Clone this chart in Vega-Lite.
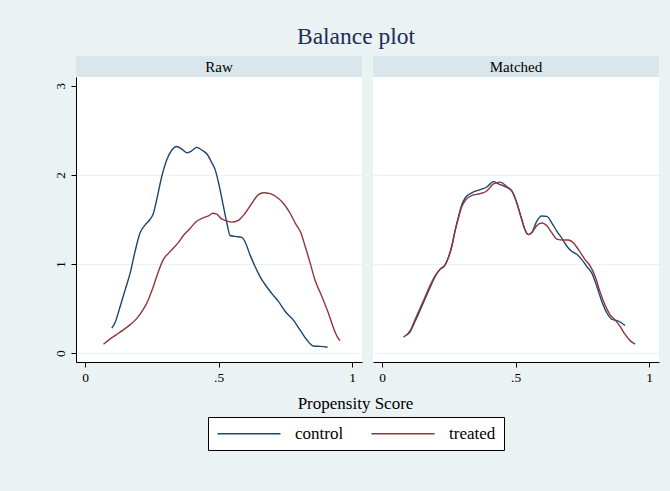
{
  "$schema": "https://vega.github.io/schema/vega-lite/v6.json",
  "background": "#EAF2F3",
  "padding": {"left": 53, "right": 11, "top": 24, "bottom": 41},
  "title": {"text": "Balance plot", "anchor": "middle", "frame": "bounds", "font": "Liberation Serif", "fontSize": 23.5, "fontWeight": "normal", "color": "#1E2C5A", "offset": 8},
  "config": {
    "view": {"stroke": null},
    "font": "Liberation Serif",
    "axis": {"labelFont": "Liberation Serif", "labelFontSize": 13.5, "labelColor": "black", "domainColor": "black", "tickColor": "black", "tickSize": 5, "titleFont": "Liberation Serif", "titleFontWeight": "normal", "titleColor": "black", "titleFontSize": 15},
    "legend": {"orient": "none", "legendX": 132, "legendY": 361, "direction": "horizontal", "title": null, "symbolType": "M-1,0H8", "symbolSize": 196, "symbolStrokeWidth": 1.6, "labelFont": "Liberation Serif", "labelFontSize": 17, "labelColor": "black", "labelOffset": 62, "columnPadding": 24, "padding": 8, "strokeColor": "black", "fillColor": "white"}
  },
  "datasets": {
    "curves": [
      {"panel":"Raw","group":"control","x":0.100,"y":0.28},{"panel":"Raw","group":"control","x":0.112,"y":0.34},{"panel":"Raw","group":"control","x":0.131,"y":0.52},{"panel":"Raw","group":"control","x":0.150,"y":0.71},{"panel":"Raw","group":"control","x":0.169,"y":0.90},{"panel":"Raw","group":"control","x":0.187,"y":1.14},{"panel":"Raw","group":"control","x":0.206,"y":1.35},{"panel":"Raw","group":"control","x":0.225,"y":1.44},{"panel":"Raw","group":"control","x":0.243,"y":1.50},{"panel":"Raw","group":"control","x":0.256,"y":1.57},{"panel":"Raw","group":"control","x":0.268,"y":1.72},{"panel":"Raw","group":"control","x":0.287,"y":1.98},{"panel":"Raw","group":"control","x":0.306,"y":2.17},{"panel":"Raw","group":"control","x":0.325,"y":2.28},{"panel":"Raw","group":"control","x":0.343,"y":2.32},{"panel":"Raw","group":"control","x":0.362,"y":2.29},{"panel":"Raw","group":"control","x":0.383,"y":2.25},{"panel":"Raw","group":"control","x":0.399,"y":2.27},{"panel":"Raw","group":"control","x":0.418,"y":2.31},{"panel":"Raw","group":"control","x":0.437,"y":2.28},{"panel":"Raw","group":"control","x":0.458,"y":2.23},{"panel":"Raw","group":"control","x":0.474,"y":2.14},{"panel":"Raw","group":"control","x":0.487,"y":2.06},{"panel":"Raw","group":"control","x":0.503,"y":1.87},{"panel":"Raw","group":"control","x":0.518,"y":1.65},{"panel":"Raw","group":"control","x":0.531,"y":1.46},{"panel":"Raw","group":"control","x":0.543,"y":1.32},{"panel":"Raw","group":"control","x":0.562,"y":1.31},{"panel":"Raw","group":"control","x":0.587,"y":1.30},{"panel":"Raw","group":"control","x":0.599,"y":1.25},{"panel":"Raw","group":"control","x":0.618,"y":1.10},{"panel":"Raw","group":"control","x":0.637,"y":0.97},{"panel":"Raw","group":"control","x":0.653,"y":0.87},{"panel":"Raw","group":"control","x":0.674,"y":0.77},{"panel":"Raw","group":"control","x":0.699,"y":0.67},{"panel":"Raw","group":"control","x":0.724,"y":0.58},{"panel":"Raw","group":"control","x":0.749,"y":0.47},{"panel":"Raw","group":"control","x":0.780,"y":0.37},{"panel":"Raw","group":"control","x":0.805,"y":0.26},{"panel":"Raw","group":"control","x":0.830,"y":0.15},{"panel":"Raw","group":"control","x":0.855,"y":0.08},{"panel":"Raw","group":"control","x":0.880,"y":0.075},{"panel":"Raw","group":"control","x":0.908,"y":0.065},
      {"panel":"Raw","group":"treated","x":0.069,"y":0.10},{"panel":"Raw","group":"treated","x":0.094,"y":0.16},{"panel":"Raw","group":"treated","x":0.119,"y":0.21},{"panel":"Raw","group":"treated","x":0.143,"y":0.26},{"panel":"Raw","group":"treated","x":0.169,"y":0.32},{"panel":"Raw","group":"treated","x":0.194,"y":0.39},{"panel":"Raw","group":"treated","x":0.218,"y":0.49},{"panel":"Raw","group":"treated","x":0.237,"y":0.60},{"panel":"Raw","group":"treated","x":0.256,"y":0.75},{"panel":"Raw","group":"treated","x":0.275,"y":0.92},{"panel":"Raw","group":"treated","x":0.293,"y":1.05},{"panel":"Raw","group":"treated","x":0.312,"y":1.12},{"panel":"Raw","group":"treated","x":0.331,"y":1.18},{"panel":"Raw","group":"treated","x":0.349,"y":1.24},{"panel":"Raw","group":"treated","x":0.368,"y":1.32},{"panel":"Raw","group":"treated","x":0.393,"y":1.40},{"panel":"Raw","group":"treated","x":0.418,"y":1.48},{"panel":"Raw","group":"treated","x":0.443,"y":1.52},{"panel":"Raw","group":"treated","x":0.462,"y":1.54},{"panel":"Raw","group":"treated","x":0.478,"y":1.57},{"panel":"Raw","group":"treated","x":0.493,"y":1.56},{"panel":"Raw","group":"treated","x":0.510,"y":1.51},{"panel":"Raw","group":"treated","x":0.524,"y":1.49},{"panel":"Raw","group":"treated","x":0.549,"y":1.47},{"panel":"Raw","group":"treated","x":0.574,"y":1.49},{"panel":"Raw","group":"treated","x":0.599,"y":1.57},{"panel":"Raw","group":"treated","x":0.624,"y":1.68},{"panel":"Raw","group":"treated","x":0.649,"y":1.78},{"panel":"Raw","group":"treated","x":0.668,"y":1.80},{"panel":"Raw","group":"treated","x":0.693,"y":1.79},{"panel":"Raw","group":"treated","x":0.718,"y":1.75},{"panel":"Raw","group":"treated","x":0.743,"y":1.68},{"panel":"Raw","group":"treated","x":0.768,"y":1.57},{"panel":"Raw","group":"treated","x":0.787,"y":1.46},{"panel":"Raw","group":"treated","x":0.808,"y":1.35},{"panel":"Raw","group":"treated","x":0.824,"y":1.20},{"panel":"Raw","group":"treated","x":0.843,"y":1.01},{"panel":"Raw","group":"treated","x":0.861,"y":0.82},{"panel":"Raw","group":"treated","x":0.886,"y":0.64},{"panel":"Raw","group":"treated","x":0.911,"y":0.45},{"panel":"Raw","group":"treated","x":0.933,"y":0.26},{"panel":"Raw","group":"treated","x":0.945,"y":0.18},{"panel":"Raw","group":"treated","x":0.955,"y":0.14},
      {"panel":"Matched","group":"control","x":0.092,"y":0.205},{"panel":"Matched","group":"control","x":0.105,"y":0.24},{"panel":"Matched","group":"control","x":0.124,"y":0.36},{"panel":"Matched","group":"control","x":0.142,"y":0.48},{"panel":"Matched","group":"control","x":0.161,"y":0.61},{"panel":"Matched","group":"control","x":0.180,"y":0.74},{"panel":"Matched","group":"control","x":0.199,"y":0.86},{"panel":"Matched","group":"control","x":0.217,"y":0.94},{"panel":"Matched","group":"control","x":0.236,"y":0.99},{"panel":"Matched","group":"control","x":0.248,"y":1.07},{"panel":"Matched","group":"control","x":0.261,"y":1.20},{"panel":"Matched","group":"control","x":0.273,"y":1.37},{"panel":"Matched","group":"control","x":0.286,"y":1.53},{"panel":"Matched","group":"control","x":0.298,"y":1.66},{"panel":"Matched","group":"control","x":0.313,"y":1.75},{"panel":"Matched","group":"control","x":0.336,"y":1.80},{"panel":"Matched","group":"control","x":0.367,"y":1.835},{"panel":"Matched","group":"control","x":0.392,"y":1.865},{"panel":"Matched","group":"control","x":0.417,"y":1.925},{"panel":"Matched","group":"control","x":0.436,"y":1.90},{"panel":"Matched","group":"control","x":0.461,"y":1.87},{"panel":"Matched","group":"control","x":0.486,"y":1.82},{"panel":"Matched","group":"control","x":0.504,"y":1.69},{"panel":"Matched","group":"control","x":0.523,"y":1.50},{"panel":"Matched","group":"control","x":0.536,"y":1.38},{"panel":"Matched","group":"control","x":0.548,"y":1.33},{"panel":"Matched","group":"control","x":0.561,"y":1.355},{"panel":"Matched","group":"control","x":0.579,"y":1.48},{"panel":"Matched","group":"control","x":0.598,"y":1.54},{"panel":"Matched","group":"control","x":0.617,"y":1.535},{"panel":"Matched","group":"control","x":0.636,"y":1.46},{"panel":"Matched","group":"control","x":0.654,"y":1.37},{"panel":"Matched","group":"control","x":0.673,"y":1.29},{"panel":"Matched","group":"control","x":0.692,"y":1.20},{"panel":"Matched","group":"control","x":0.711,"y":1.14},{"panel":"Matched","group":"control","x":0.729,"y":1.11},{"panel":"Matched","group":"control","x":0.748,"y":1.05},{"panel":"Matched","group":"control","x":0.767,"y":0.97},{"panel":"Matched","group":"control","x":0.785,"y":0.90},{"panel":"Matched","group":"control","x":0.804,"y":0.75},{"panel":"Matched","group":"control","x":0.823,"y":0.58},{"panel":"Matched","group":"control","x":0.842,"y":0.45},{"panel":"Matched","group":"control","x":0.860,"y":0.38},{"panel":"Matched","group":"control","x":0.885,"y":0.36},{"panel":"Matched","group":"control","x":0.910,"y":0.31},
      {"panel":"Matched","group":"treated","x":0.080,"y":0.18},{"panel":"Matched","group":"treated","x":0.105,"y":0.25},{"panel":"Matched","group":"treated","x":0.124,"y":0.38},{"panel":"Matched","group":"treated","x":0.142,"y":0.50},{"panel":"Matched","group":"treated","x":0.161,"y":0.63},{"panel":"Matched","group":"treated","x":0.180,"y":0.76},{"panel":"Matched","group":"treated","x":0.199,"y":0.87},{"panel":"Matched","group":"treated","x":0.217,"y":0.94},{"panel":"Matched","group":"treated","x":0.236,"y":0.99},{"panel":"Matched","group":"treated","x":0.248,"y":1.07},{"panel":"Matched","group":"treated","x":0.261,"y":1.20},{"panel":"Matched","group":"treated","x":0.273,"y":1.37},{"panel":"Matched","group":"treated","x":0.286,"y":1.52},{"panel":"Matched","group":"treated","x":0.298,"y":1.64},{"panel":"Matched","group":"treated","x":0.313,"y":1.72},{"panel":"Matched","group":"treated","x":0.336,"y":1.77},{"panel":"Matched","group":"treated","x":0.367,"y":1.79},{"panel":"Matched","group":"treated","x":0.392,"y":1.82},{"panel":"Matched","group":"treated","x":0.417,"y":1.90},{"panel":"Matched","group":"treated","x":0.442,"y":1.92},{"panel":"Matched","group":"treated","x":0.467,"y":1.87},{"panel":"Matched","group":"treated","x":0.486,"y":1.82},{"panel":"Matched","group":"treated","x":0.504,"y":1.69},{"panel":"Matched","group":"treated","x":0.523,"y":1.50},{"panel":"Matched","group":"treated","x":0.536,"y":1.38},{"panel":"Matched","group":"treated","x":0.548,"y":1.33},{"panel":"Matched","group":"treated","x":0.561,"y":1.355},{"panel":"Matched","group":"treated","x":0.579,"y":1.43},{"panel":"Matched","group":"treated","x":0.598,"y":1.46},{"panel":"Matched","group":"treated","x":0.617,"y":1.43},{"panel":"Matched","group":"treated","x":0.636,"y":1.35},{"panel":"Matched","group":"treated","x":0.654,"y":1.28},{"panel":"Matched","group":"treated","x":0.680,"y":1.27},{"panel":"Matched","group":"treated","x":0.698,"y":1.27},{"panel":"Matched","group":"treated","x":0.717,"y":1.235},{"panel":"Matched","group":"treated","x":0.736,"y":1.16},{"panel":"Matched","group":"treated","x":0.760,"y":1.05},{"panel":"Matched","group":"treated","x":0.779,"y":0.98},{"panel":"Matched","group":"treated","x":0.798,"y":0.86},{"panel":"Matched","group":"treated","x":0.816,"y":0.69},{"panel":"Matched","group":"treated","x":0.835,"y":0.54},{"panel":"Matched","group":"treated","x":0.854,"y":0.43},{"panel":"Matched","group":"treated","x":0.873,"y":0.37},{"panel":"Matched","group":"treated","x":0.891,"y":0.30},{"panel":"Matched","group":"treated","x":0.910,"y":0.21},{"panel":"Matched","group":"treated","x":0.929,"y":0.14},{"panel":"Matched","group":"treated","x":0.948,"y":0.10}
    ]
  },
  "spacing": 8,
  "vconcat": [
    {
      "spacing": 11,
      "hconcat": [
        {
          "spacing": 0,
          "vconcat": [
            {
              "width": 286, "height": 21,
              "view": {"fill": "#D9E6EB", "stroke": null},
              "data": {"values": [{"label": "Raw"}]},
              "mark": {"type": "text", "font": "Liberation Serif", "fontSize": 15, "color": "black"},
              "encoding": {"text": {"field": "label", "type": "nominal"}}
            },
            {
              "width": 286, "height": 285,
              "view": {"fill": "white", "stroke": null},
              "data": {"name": "curves"},
              "transform": [{"filter": "datum.panel === 'Raw'"}],
              "mark": {"type": "line", "strokeWidth": 1.4, "interpolate": "monotone"},
              "encoding": {
                "x": {"field": "x", "type": "quantitative", "scale": {"domain": [-0.034, 1.037], "nice": false, "zero": false},
                  "axis": {"values": [0, 0.5, 1], "labelExpr": "datum.value == 0.5 ? '.5' : format(datum.value, 'd')", "grid": false, "title": null, "labelPadding": 3}},
                "y": {"field": "y", "type": "quantitative", "scale": {"domain": [-0.1, 3.1], "nice": false, "zero": false},
                  "axis": {"values": [0, 1, 2, 3], "title": null, "labelAngle": -90, "labelPadding": 4, "grid": true, "gridColor": {"condition": {"test": "datum.value === 3", "value": "white"}, "value": "#EAF2F3"}, "gridWidth": 1.2}},
                "color": {"field": "group", "type": "nominal", "scale": {"domain": ["control", "treated"], "range": ["#1A476F", "#90353B"]}}
              }
            }
          ]
        },
        {
          "spacing": 0,
          "vconcat": [
            {
              "width": 286, "height": 21,
              "view": {"fill": "#D9E6EB", "stroke": null},
              "data": {"values": [{"label": "Matched"}]},
              "mark": {"type": "text", "font": "Liberation Serif", "fontSize": 15, "color": "black"},
              "encoding": {"text": {"field": "label", "type": "nominal"}}
            },
            {
              "width": 286, "height": 285,
              "view": {"fill": "white", "stroke": null},
              "data": {"name": "curves"},
              "transform": [{"filter": "datum.panel === 'Matched'"}],
              "mark": {"type": "line", "strokeWidth": 1.4, "interpolate": "monotone"},
              "encoding": {
                "x": {"field": "x", "type": "quantitative", "scale": {"domain": [-0.034, 1.037], "nice": false, "zero": false},
                  "axis": {"values": [0, 0.5, 1], "labelExpr": "datum.value == 0.5 ? '.5' : format(datum.value, 'd')", "grid": false, "title": null, "labelPadding": 3}},
                "y": {"field": "y", "type": "quantitative", "scale": {"domain": [-0.1, 3.1], "nice": false, "zero": false},
                  "axis": {"values": [0, 1, 2, 3], "title": null, "labels": false, "ticks": false, "domain": false, "grid": true, "gridColor": {"condition": {"test": "datum.value === 3", "value": "white"}, "value": "#EAF2F3"}, "gridWidth": 1.2}},
                "color": {"field": "group", "type": "nominal", "scale": {"domain": ["control", "treated"], "range": ["#1A476F", "#90353B"]}}
              }
            }
          ]
        }
      ]
    },
    {
      "width": 583, "height": 20,
      "data": {"values": [{"label": "Propensity Score"}]},
      "mark": {"type": "text", "font": "Liberation Serif", "fontSize": 17, "color": "black", "dx": -12, "dy": 2},
      "encoding": {"text": {"field": "label", "type": "nominal"}}
    }
  ]
}
